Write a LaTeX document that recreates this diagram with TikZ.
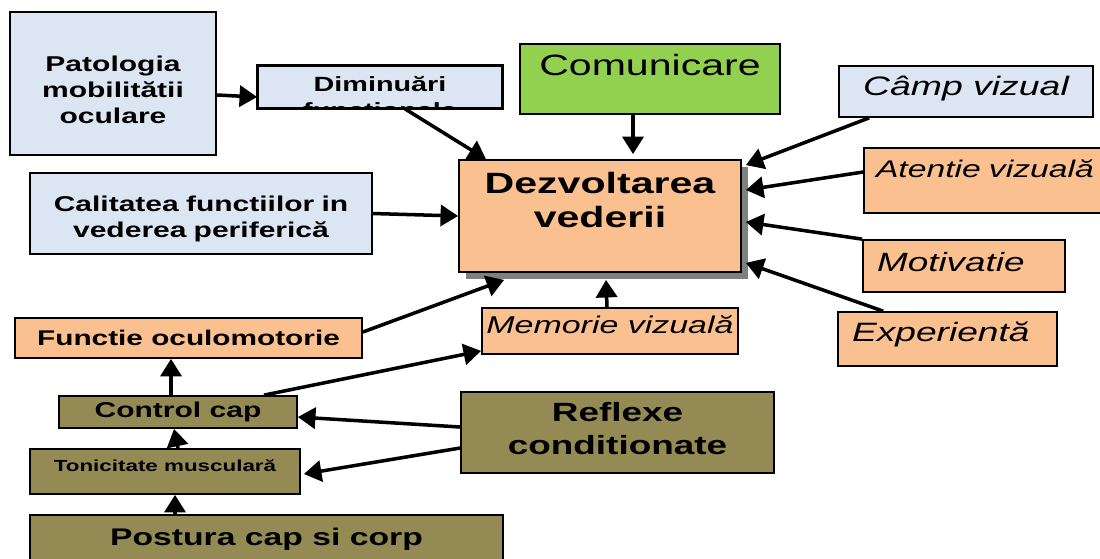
\documentclass[tikz,border=0pt]{standalone}
\usepackage{fontspec}
\setmainfont{Liberation Sans}[FakeStretch=1.4]
\usetikzlibrary{arrows.meta, positioning, shadows}

\definecolor{paleblue}{HTML}{DCE6F2}
\definecolor{peach}{HTML}{FAC090}
\definecolor{grass}{HTML}{92D050}
\definecolor{khaki}{HTML}{948A54}
\definecolor{shadowgray}{HTML}{808080}

\begin{document}
\begin{tikzpicture}[
      box/.style={draw, rectangle, line width=1pt, inner sep=0pt, align=center},
      bluebox/.style={box, fill=paleblue},
      peachbox/.style={box, fill=peach},
      greenbox/.style={box, fill=grass},
      khakibox/.style={box, fill=khaki},
      arr/.style={-{Triangle[length=10pt, width=12pt]}, line width=2pt}
    ]
    \clip (0,0) rectangle (22,-11.16);

    % Nodes, top row
    \node[bluebox, minimum width=4.12cm, minimum height=2.86cm, text width=4.12cm,
      text height=1.19cm, text depth=1.67cm, font=\bfseries\fontsize{12.2}{14.8}\selectfont]
      (patologia) at (2.26,-1.67) {Patologia\\mobilitătii\\oculare};
    \node[bluebox, minimum width=4.88cm, minimum height=0.84cm] (dimin) at (7.6,-1.74) {};
    \begin{scope}
      \clip (dimin.south west) rectangle (dimin.north east);
      \node[text width=4.88cm, align=center, inner sep=0pt, anchor=base,
        font=\bfseries\fontsize{11.7}{14.8}\selectfont]
        (dimintext) at ([yshift=-0.52cm]dimin.north) {Diminuări\\funcţionale};
    \end{scope}
    \draw[line width=1pt] (dimin.south west) rectangle (dimin.north east);
    \node[greenbox, minimum width=5.2cm, minimum height=1.4cm,
      text height=0.62cm, text depth=0.78cm, font=\fontsize{16.7}{20}\selectfont]
      (comunic) at (13,-1.58) {Comunicare};
    \node[bluebox, minimum width=5.08cm, minimum height=1.02cm,
      text height=0.58cm, text depth=0.44cm, font=\itshape\fontsize{15.2}{18}\selectfont]
      (camp) at (19.32,-1.83) {Câmp vizual};

    % Nodes, middle
    \node[peachbox, minimum width=5.64cm, minimum height=2.24cm, text width=5.64cm,
      text height=0.66cm, text depth=1.58cm, font=\bfseries\fontsize{16.7}{19.9}\selectfont,
      drop shadow={shadow xshift=0.14cm, shadow yshift=-0.14cm, fill=shadowgray, opacity=1}]
      (dezv) at (12,-4.32) {Dezvoltarea\\vederii};
    \node[bluebox, minimum width=6.84cm, minimum height=1.62cm, text width=6.84cm,
      text height=0.77cm, text depth=0.85cm, font=\bfseries\fontsize{12.2}{15}\selectfont]
      (calit) at (4.02,-4.27) {Calitatea functiilor in\\vederea periferică};
    \node[peachbox, minimum height=1.3cm, inner xsep=0.24cm, text width=4.54cm, align=left,
      text height=0.58cm, text depth=0.72cm, font=\itshape\fontsize{13.7}{16}\selectfont]
      (atentie) at (19.79,-3.61) {Atentie vizuală};
    \node[peachbox, minimum height=1.04cm, inner xsep=0.28cm, text width=3.48cm, align=left,
      text height=0.62cm, text depth=0.42cm, font=\itshape\fontsize{15}{18}\selectfont]
      (motiv) at (19.28,-5.32) {Motivatie};
    \node[peachbox, minimum height=1.08cm, inner xsep=0.28cm, text width=3.82cm, align=left,
      text height=0.59cm, text depth=0.49cm, font=\itshape\fontsize{15.1}{18}\selectfont]
      (exper) at (18.95,-6.78) {Experientă};
    \node[peachbox, minimum width=5.12cm, minimum height=0.92cm,
      text height=0.5cm, text depth=0.42cm, font=\itshape\fontsize{13.8}{16}\selectfont]
      (memor) at (12.2,-6.62) {Memorie vizuală};

    % Nodes, bottom left
    \node[peachbox, minimum width=6.94cm, minimum height=0.8cm,
      font=\bfseries\fontsize{12.1}{14}\selectfont] (functie) at (3.77,-6.76) {Functie oculomotorie};
    \node[khakibox, minimum width=4.76cm, minimum height=0.64cm,
      font=\bfseries\fontsize{12.2}{14}\selectfont] (control) at (3.56,-8.24) {Control cap};
    \node[khakibox, minimum width=5.4cm, minimum height=0.9cm,
      text height=0.44cm, text depth=0.46cm, font=\bfseries\fontsize{9.1}{11}\selectfont]
      (tonic) at (3.3,-9.43) {Tonicitate musculară};
    \node[khakibox, minimum width=9.46cm, minimum height=1.3cm,
      text height=0.6cm, text depth=0.7cm, font=\bfseries\fontsize{13.7}{16}\selectfont]
      (postura) at (5.33,-10.95) {Postura cap si corp};
    \node[khakibox, minimum width=6.26cm, minimum height=1.62cm, text width=6.26cm,
      text height=0.59cm, text depth=1.03cm, font=\bfseries\fontsize{15}{19}\selectfont]
      (reflex) at (12.35,-8.65) {Reflexe\\conditionate};

    % Arrows
    \draw[arr] ([yshift=-0.23cm]patologia.east) -- ([yshift=-0.2cm]dimin.west);
    \draw[arr] ([xshift=0.5cm]dimin.south) -- ([xshift=-2.28cm]dezv.north);
    \draw[arr] ([xshift=-0.34cm]comunic.south) -- ([xshift=0.66cm,yshift=0.1cm]dezv.north);
    \draw[arr] ([xshift=0.62cm]camp.south west) -- ([xshift=0.08cm,yshift=-0.12cm]dezv.north east);
    \draw[arr] ([yshift=0.17cm]atentie.west) -- ([xshift=0.08cm,yshift=0.52cm]dezv.east);
    \draw[arr] (calit.east) -- (dezv.west);
    \draw[arr] (motiv.north west) -- ([xshift=0.08cm,yshift=-0.12cm]dezv.east);
    \draw[arr] ([xshift=0.92cm]exper.north west) -- ([xshift=0.08cm,yshift=0.2cm]dezv.south east);
    \draw[arr] ([xshift=-0.06cm]memor.north) -- ([xshift=0.12cm,yshift=-0.14cm]dezv.south);
    \draw[arr] ([yshift=0.12cm]functie.east) -- ([xshift=0.92cm,yshift=-0.14cm]dezv.south west);
    \draw[arr] ([xshift=-0.68cm]control.north east) -- ([yshift=0.08cm]memor.south west);
    \draw[arr] ([xshift=-0.14cm]control.north) -- ([xshift=-0.35cm]functie.south);
    \draw[arr] ([xshift=0.26cm]tonic.north) -- ([xshift=-0.08cm]control.south);
    \draw[arr] ([yshift=0.11cm]reflex.west) -- ([yshift=-0.1cm]control.east);
    \draw[arr] ([yshift=-0.31cm]reflex.west) -- ([xshift=0.06cm,yshift=-0.05cm]tonic.east);
    \draw[arr] ([xshift=-1.83cm]postura.north) -- ([xshift=0.2cm]tonic.south);
\end{tikzpicture}
\end{document}
